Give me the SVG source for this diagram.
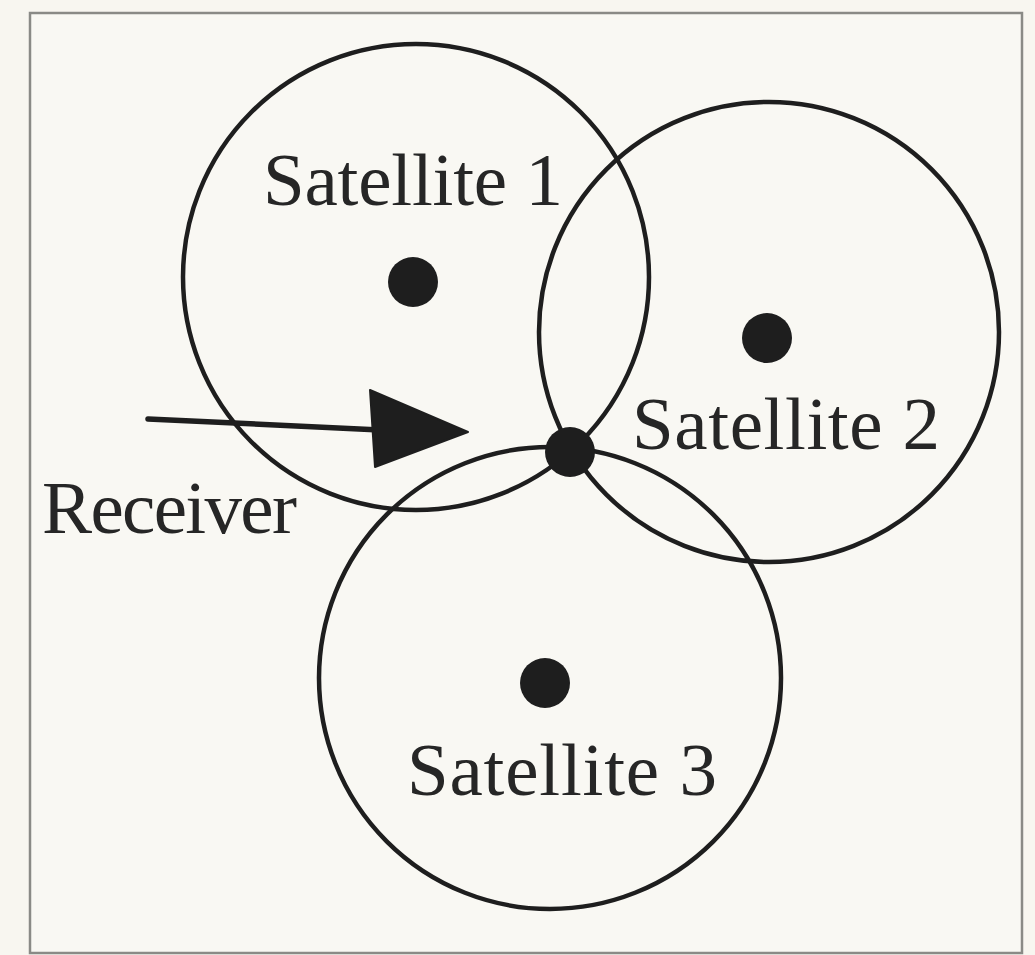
<svg xmlns="http://www.w3.org/2000/svg" width="1035" height="955" viewBox="0 0 1035 955">
<style>
.ring{fill:none;stroke:#1e1e1e;stroke-width:4.5}
.dot{fill:#1e1e1e}
.lbl{font-family:"Liberation Serif","Times New Roman",serif;font-size:75px;fill:#262626}
</style>
<rect x="0" y="0" width="1035" height="955" fill="#f8f6f0"/>
<rect x="30" y="13" width="992" height="940" fill="#f9f8f3" stroke="#8a8a86" stroke-width="2.5"/>
<g id="satellite1">
<circle class="ring" cx="416" cy="277" r="233"/>
<circle class="dot" cx="413" cy="282" r="25"/>
<text class="lbl" x="263" y="205" textLength="300">Satellite 1</text>
</g>
<g id="satellite2">
<circle class="ring" cx="769" cy="332" r="230"/>
<circle class="dot" cx="767" cy="338" r="25"/>
<text class="lbl" x="632" y="449" textLength="308">Satellite 2</text>
</g>
<g id="satellite3">
<circle class="ring" cx="550" cy="678" r="231"/>
<circle class="dot" cx="545" cy="683" r="25"/>
<text class="lbl" x="407" y="795" textLength="310">Satellite 3</text>
</g>
<g id="receiver">
<circle class="dot" cx="570" cy="452" r="25"/>
<text class="lbl" x="42" y="533" textLength="255">Receiver</text>
</g>
<g id="connectors">
<line x1="148" y1="419" x2="380" y2="430" stroke="#1e1e1e" stroke-width="5.5" stroke-linecap="round"/>
<polygon points="370,390 468,432 375,467" fill="#1e1e1e" stroke="#1e1e1e" stroke-width="2" stroke-linejoin="round"/>
</g>
</svg>
